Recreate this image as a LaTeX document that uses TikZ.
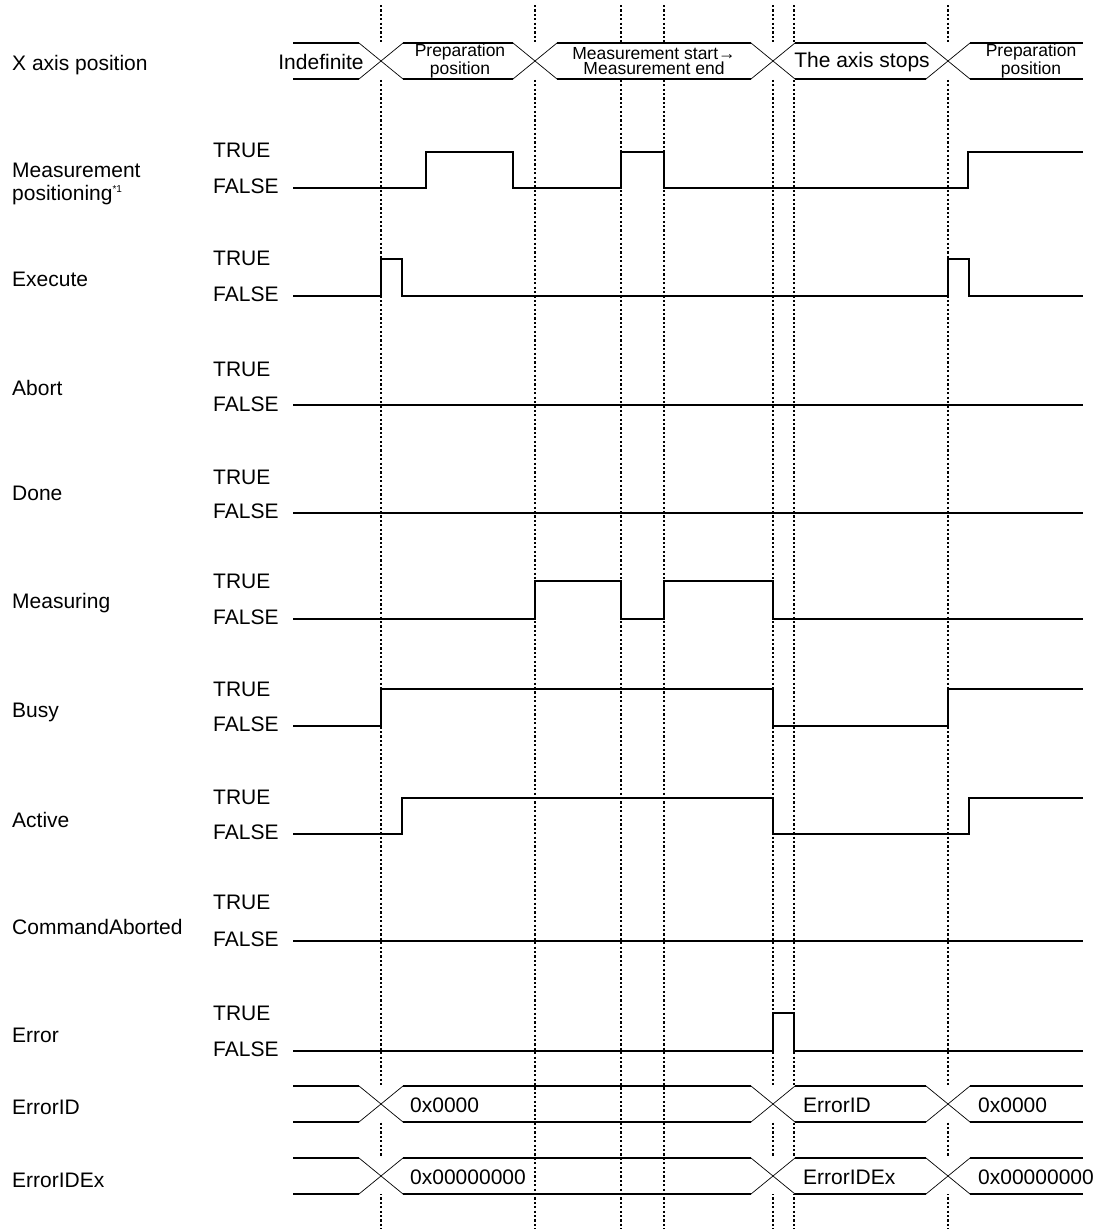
\documentclass[tikz,border=0pt]{standalone}
\usepackage{fontspec}
\setmainfont{Liberation Sans}
\usetikzlibrary{positioning}

% bus row: centre y, list of crossing points
\newcommand{\busrow}[2]{%
  \foreach \cx [remember=\cx as \px (initially 271)] in {#2,1105}
    \draw[busline] (\px+22,#1-18) -- (\cx-22,#1-18) (\px+22,#1+18) -- (\cx-22,#1+18);
  \foreach \cx in {#2}
    \draw[buscross] (\cx-22,#1-18) -- (\cx+22,#1+18) (\cx-22,#1+18) -- (\cx+22,#1-18);
}

\begin{document}
\begin{tikzpicture}[
  x=1pt, y=-1pt,
  sig/.style={line width=1.8pt},
  guide/.style={line width=1.4pt, dash pattern=on 2.2pt off 2.2pt},
  busline/.style={line width=2pt},
  buscross/.style={line width=0.7pt},
  signame/.style={font=\fontsize{21}{23}\selectfont, anchor=west, align=left, inner sep=0pt},
  level/.style={font=\fontsize{21}{23}\selectfont, anchor=west, inner sep=0pt},
  busval/.style={font=\fontsize{21}{23}\selectfont, inner sep=0pt},
  bussmall/.style={font=\fontsize{17.5}{15.5}\selectfont, inner sep=0pt, align=center}
]
  \useasboundingbox (0,0) rectangle (1099,1229);

  % timing guides
  \foreach \gx in {381,535,621,664,773,794,948}
    \draw[guide] (\gx,5) -- (\gx,1229);

  % X axis position
  \fill[white] (293,43) rectangle (1083,79);
  \busrow{61}{381,535,773,948}
  \node[busval] (indef) at (321,62) {Indefinite};
  \node[bussmall] (prep1) at (460,61) {Preparation\\position};
  \node[bussmall] (meas) at (654,61) {Measurement start→\\Measurement end};
  \node[busval] (stops) at (862,62) {The axis stops};
  \node[bussmall] (prep2) at (1031,61) {Preparation\\position};

  % signal names
  \node[signame] (xaxis) at (12,65) {X axis position};
  \node[signame] (mpos) at (12,184) {Measurement\\positioning\raisebox{8pt}{\fontsize{10}{10}\selectfont *1}};
  \node[signame] (exec) at (12,279) {Execute};
  \node[signame] (abort) at (12,388) {Abort};
  \node[signame] (done) at (12,493) {Done};
  \node[signame] (measuring) at (12,603) {Measuring};
  \node[signame] (busy) at (12,712) {Busy};
  \node[signame] (active) at (12,820) {Active};
  \node[signame] (cmdab) at (12,927) {CommandAborted};
  \node[signame] (error) at (12,1035) {Error};
  \node[signame] (errid) at (12,1107) {ErrorID};
  \node[signame] (erridex) at (12,1180) {ErrorIDEx};

  \foreach \hi/\lo [count=\i] in {150/186,258/294,369/404,477/511,581/617,689/724,797/832,902/939,1013/1049} {
    \node[level] (true\i) at (213,\hi) {TRUE};
    \node[level] (false\i) at (213,\lo) {FALSE};
  }

  % signals
  \draw[sig] (293,188) -| (426,152) -| (513,188) -| (621,152) -| (664,188) -| (968,152) -- (1083,152);
  \draw[sig] (293,296) -| (381,259) -| (402,296) -| (948,259) -| (969,296) -- (1083,296);
  \draw[sig] (293,405) -- (1083,405);
  \draw[sig] (293,513) -- (1083,513);
  \draw[sig] (293,619) -| (535,581) -| (621,619) -| (664,581) -| (773,619) -- (1083,619);
  \draw[sig] (293,726) -| (381,689) -| (773,726) -| (948,689) -- (1083,689);
  \draw[sig] (293,834) -| (402,798) -| (773,834) -| (969,798) -- (1083,798);
  \draw[sig] (293,941) -- (1083,941);
  \draw[sig] (293,1051) -| (773,1013) -| (794,1051) -- (1083,1051);

  % ErrorID / ErrorIDEx
  \foreach \cx in {381,773,948} {
    \fill[white] (\cx-22,1086) rectangle (\cx+22,1122);
    \fill[white] (\cx-22,1158) rectangle (\cx+22,1194);
  }
  \busrow{1104}{381,773,948}
  \busrow{1176}{381,773,948}
  \node[busval, anchor=west] (id1) at (410,1105) {0x0000};
  \node[busval, anchor=west] (id2) at (803,1105) {ErrorID};
  \node[busval, anchor=west] (id3) at (978,1105) {0x0000};
  \node[busval, anchor=west] (idex1) at (410,1177) {0x00000000};
  \node[busval, anchor=west] (idex2) at (803,1177) {ErrorIDEx};
  \node[busval, anchor=west] (idex3) at (978,1177) {0x00000000};
\end{tikzpicture}
\end{document}
